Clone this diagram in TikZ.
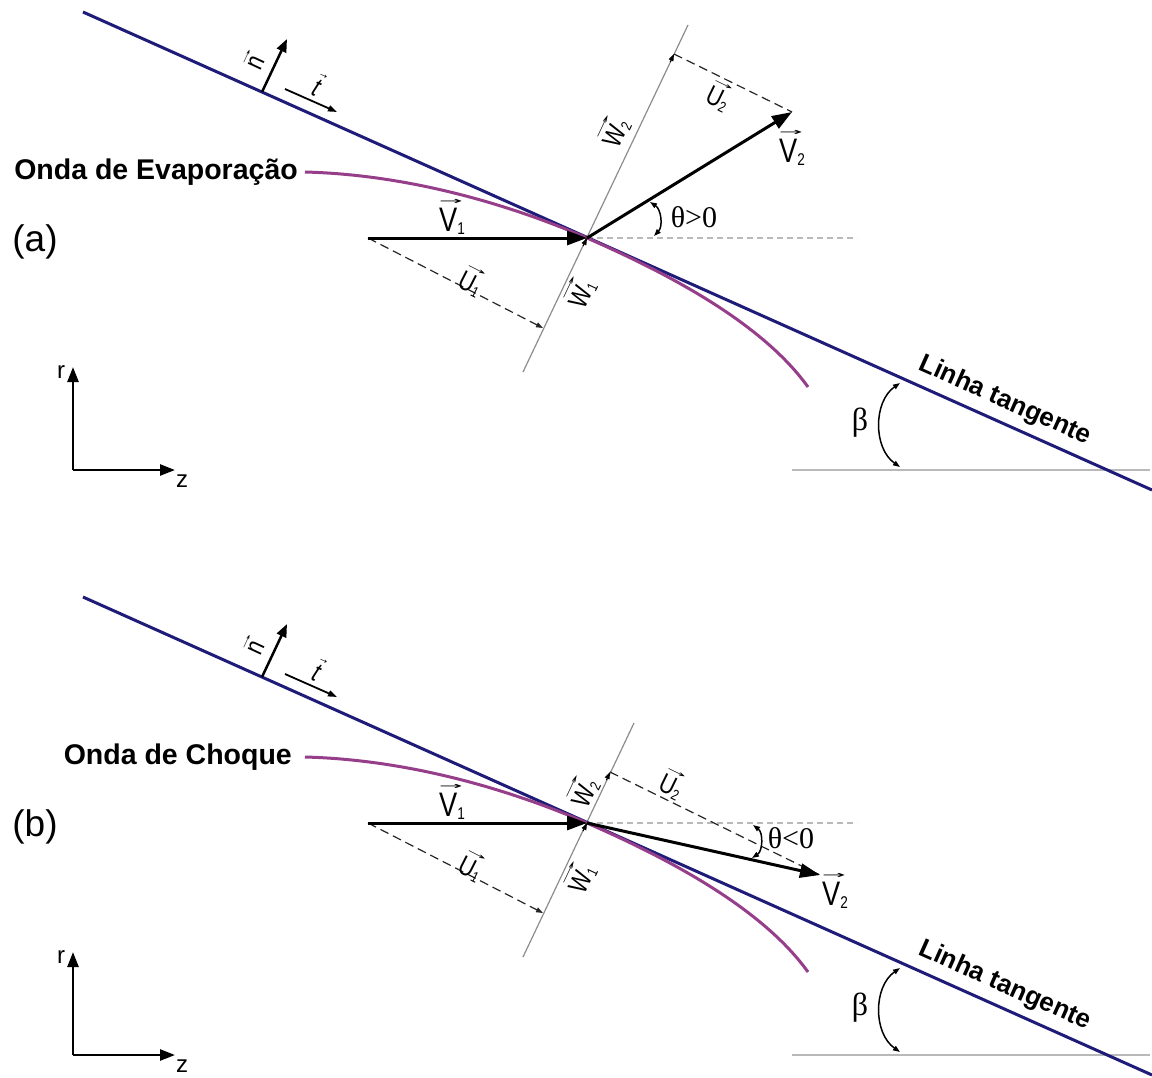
\documentclass[tikz,border=0pt]{standalone}
\usepackage{fontspec}
\setmainfont{Liberation Sans}
\newfontfamily\serifgr{Liberation Serif}
\newfontfamily\narrowsans[FakeStretch=0.8]{Liberation Sans}
\newfontfamily\arrowfont{DejaVu Sans}
\usetikzlibrary{arrows.meta,calc}
\definecolor{tanblue}{RGB}{30,28,120}
\definecolor{wavepurple}{RGB}{150,62,138}
\definecolor{guidegray}{RGB}{140,140,140}
\definecolor{palegray}{RGB}{185,185,185}
% vector label: #1 letter, #2 subscript, #3 subscript size
\newcommand\vlab[3]{\mbox{\setbox0=\hbox{#1}%
  \dimen0=1.3\wd0
  \rlap{\raisebox{1.18\ht0}{\resizebox{\dimen0}{0.22\ht0}{\arrowfont →}}}%
  \copy0\raisebox{-0.12\ht0}{\fontsize{#3}{#3}\selectfont #2}}}
\tikzset{
  tanline/.style={tanblue, line width=3pt},
  waveline/.style={wavepurple, line width=3pt},
  velarrow/.style={line width=3pt, -{Triangle[length=20pt,width=14pt]}},
  normalline/.style={guidegray, line width=1.2pt},
  horizdash/.style={palegray, line width=1.2pt, dash pattern=on 6pt off 4pt},
  lightline/.style={palegray, line width=1.5pt},
  compdash/.style={black!85, line width=1.2pt, dash pattern=on 9pt off 5pt},
  thinblack/.style={black, line width=1pt},
  smalltip/.style={-{Triangle[length=7pt,width=5pt]}},
  axisarrow/.style={line width=2.5pt, -{Triangle[length=15pt,width=11pt]}},
  unitn/.style={line width=2.5pt, -{Triangle[length=13pt,width=10pt]}},
  unitt/.style={line width=1.8pt, -{Triangle[length=9pt,width=6pt]}},
  anglearc/.style={line width=1.5pt, {Triangle[length=7pt,width=5pt]}-{Triangle[length=7pt,width=5pt]}},
  vbig/.style={font=\fontsize{34}{36}\selectfont\narrowsans, inner sep=0pt},
  vsmall/.style={font=\fontsize{27}{29}\selectfont\narrowsans, inner sep=0pt},
  wavelabel/.style={font=\fontsize{28.5}{30}\selectfont\bfseries, anchor=east, inner sep=0pt},
  tanlabel/.style={font=\fontsize{26}{28}\selectfont\bfseries, inner sep=0pt},
  panellabel/.style={font=\fontsize{37}{40}\selectfont, inner sep=0pt},
  greek/.style={font=\fontsize{32}{34}\selectfont\serifgr, inner sep=0pt},
  thetalab/.style={font=\fontsize{30}{32}\selectfont\serifgr, inner sep=0pt},
  axlabel/.style={font=\fontsize{24}{26}\selectfont, inner sep=0pt},
}
\newcommand\commonpanel[1]{%
  \coordinate (P) at (587,-238);
  \coordinate (TL) at (83,-12);
  \coordinate (TR) at (1152,-490);
  \coordinate (NB) at (523,-372);
  \coordinate (HE) at (857,-238);
  \coordinate (V1s) at (368,-238);
  \coordinate (F1) at (543,-328);
  \coordinate (W0) at (305,-172);
  \coordinate (W9) at (808,-387);
  \coordinate (O) at (73,-470);
  \coordinate (RT) at (73,-367);
  \coordinate (ZT) at (175,-470);
  \coordinate (GL) at (792,-470);
  \coordinate (GR) at (1150,-470);
  \coordinate (BA) at (900,-467);
  \coordinate (BB) at (900,-383);
  \coordinate (NA) at (262,-92);
  \coordinate (NT) at (287,-39);
  \coordinate (TA) at (285,-89);
  \coordinate (TT) at (337,-112);
  \draw[horizdash] (P) -- (HE);
  \draw[lightline] (GL) -- (GR);
  \draw[normalline] (NB) -- #1;
  \draw[compdash, smalltip] (V1s) -- (F1);
  \draw[tanline] (TL) -- (TR);
  \draw[waveline] (W0) .. controls (420,-175) and (525,-211) .. (P) .. controls (660,-270) and (760,-320) .. (W9);
  \draw[velarrow] (V1s) -- (P);
  \draw[thinblack, smalltip] ($(P)!9pt!(F1)$) -- (P);
  \draw[axisarrow] (O) -- (RT);
  \draw[axisarrow] (O) -- (ZT);
  \draw[unitn] (NA) -- (NT);
  \draw[unitt] (TA) -- (TT);
  \draw[anglearc] (BA) to[bend left=55] (BB);
  \node[vbig] (v1lab) at (452,-217) {\vlab{V}{1}{17}};
  \node[vsmall, rotate=-27] (u1lab) at (472,-281) {\vlab{U}{1}{15}};
  \node[vsmall, rotate=64.6] (w1lab) at (580,-293) {\vlab{W}{1}{15}};
  \node[vsmall, rotate=65] (nlab) at (255,-62) {\vlab{n}{}{10}};
  \node[vsmall, rotate=-24] (tlab) at (318,-86) {\vlab{\itshape t}{}{10}};
  \node[axlabel] (rlab) at (61,-372) {r};
  \node[axlabel] (zlab) at (182,-481) {z};
  \node[greek] (betalab) at (860,-423) {β};
  \node[tanlabel, rotate=-24] (tanlab) at (1005,-401) {Linha tangente};
}
\begin{document}
\begin{tikzpicture}[x=1pt,y=1pt]
\useasboundingbox (0,0) rectangle (1152,-1077);
% ---------- panel (a)
\begin{scope}[name prefix=a-]
  \coordinate (NTop) at (688,-25);
  \commonpanel{(NTop)}
  \coordinate (F2) at (674,-54);
  \coordinate (V2e) at (792,-112);
  \coordinate (THa) at (654,-236);
  \coordinate (THb) at (650,-202);
  \draw[compdash] (F2) -- (V2e);
  \draw[thinblack, smalltip] ($(F2)!9pt!(P)$) -- (F2);
  \draw[velarrow] (P) -- (V2e);
  \draw[anglearc] (THa) to[bend right=50] (THb);
  \node[thetalab] (thlab) at (694,-217) {θ>0};
  \node[vsmall, rotate=-26] (u2lab) at (719,-96) {\vlab{U}{2}{15}};
  \node[vsmall, rotate=64.6] (w2lab) at (614,-132) {\vlab{W}{2}{15}};
  \node[vbig] (v2lab) at (792,-148) {\vlab{V}{2}{17}};
  \node[panellabel] (plab) at (35,-242) {(a)};
  \node[wavelabel] (wlab) at (298,-172) {Onda de Evaporação};
\end{scope}
% ---------- panel (b)
\begin{scope}[yshift=-585pt, name prefix=b-]
  \coordinate (NTop) at (634,-138);
  \commonpanel{(NTop)}
  \coordinate (F2) at (610,-187);
  \coordinate (V2e) at (820,-290);
  \coordinate (THa) at (752,-273);
  \coordinate (THb) at (753,-240);
  \draw[compdash] (F2) -- (V2e);
  \draw[thinblack, smalltip] ($(F2)!9pt!(P)$) -- (F2);
  \draw[velarrow] (P) -- (V2e);
  \draw[anglearc] (THa) to[bend right=55] (THb);
  \node[thetalab] (thlab) at (791,-253) {θ<0};
  \node[vsmall, rotate=-26] (u2lab) at (672,-199) {\vlab{U}{2}{15}};
  \node[vsmall, rotate=64.6] (w2lab) at (583,-207) {\vlab{W}{2}{15}};
  \node[vbig] (v2lab) at (835,-306) {\vlab{V}{2}{17}};
  \node[panellabel] (plab) at (35,-242) {(b)};
  \node[wavelabel] (wlab) at (292,-172) {Onda de Choque};
\end{scope}
\end{tikzpicture}
\end{document}
